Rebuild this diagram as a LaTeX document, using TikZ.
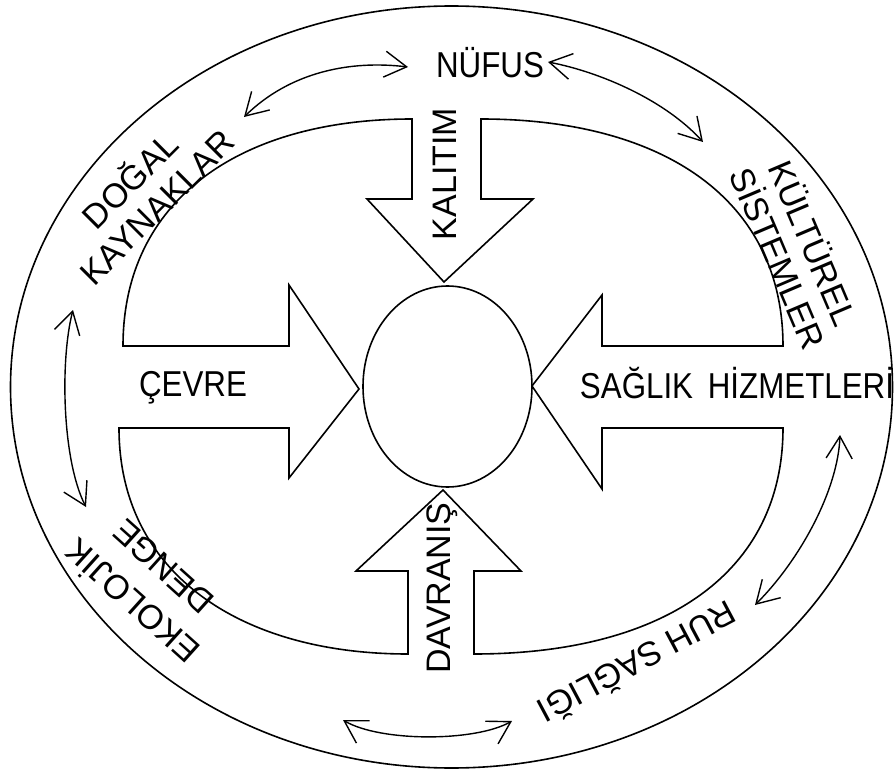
\documentclass[tikz,border=0pt]{standalone}
\usepackage{fontspec}
\setmainfont{Liberation Sans}
\newfontfamily\narrowsans{Liberation Sans}[FakeStretch=0.87]
\usetikzlibrary{arrows.meta}

\begin{document}
\begin{tikzpicture}[x=0.5pt,y=-0.5pt,>={Straight Barb[length=11pt,width=13pt]},
	ring/.style={line width=0.8pt},
	link/.style={line width=0.7pt,<->},
	flat/.style={font=\narrowsans\fontsize{18}{20}\selectfont,inner sep=0pt,anchor=base},
	band/.style={font=\fontsize{17}{19}\selectfont,inner sep=0pt,align=center}]
	
	\useasboundingbox (0,0) rectangle (896,776);
	
	% Outer ring
	\draw[ring] (451.5,387) ellipse [x radius=441, y radius=381];
	
	% Inner ring with the four block arrows
	\draw[ring]
	(123,346) .. controls (123,200) and (240,119) .. (412,119)
	-- (412,199) -- (367,199) -- (444,282) -- (533,199) -- (481,199) -- (481,119)
	.. controls (664,119) and (783,200) .. (783,346)
	-- (602,346) -- (602,295) -- (532,386) -- (602,489) -- (602,428) -- (783,428)
	.. controls (783,573) and (664,654) .. (474,654)
	-- (474,571) -- (521,571) -- (443,490) -- (356,571) -- (408,571) -- (408,654)
	.. controls (240,654) and (119,573) .. (119,428)
	-- (289,428) -- (289,478) -- (359,389) -- (289,285) -- (289,346) -- cycle;
	
	% Centre
	\draw[ring] (447.5,386.5) ellipse [x radius=84.5, y radius=100.5];
	
	% Labels
	\node[flat] (nufus) at (490,77) {NÜFUS};
	\node[flat] (cevre) at (193,396) {ÇEVRE};
	\node[flat] (saglik) at (737,398) {SAĞLIK\hspace{3pt} HİZMETLERİ};
	\node[band,rotate=90,anchor=base] (kalitim) at (456,174) {KALITIM};
	\node[band,rotate=90,anchor=base] (davranis) at (450,588) {DAVRANIŞ};
	\node[band,rotate=45] (dogal) at (142,192) {DOĞAL\\KAYNAKLAR};
	\node[band,rotate=-67] (kultur) at (797,250) {KÜLTÜREL\\SİSTEMLER};
	\node[band,rotate=138,font=\fontsize{17}{23}\selectfont] (ekoloji) at (146,586) {EKOLOJİK\\DENGE};
	\node[band,rotate=208] (ruh) at (638,664) {RUH SAĞLIĞI};
	
	% Arrow ends in the outer band
	\coordinate (nufusW) at (408,67);
	\coordinate (nufusE) at (548,62);
	\coordinate (dogalE) at (244,117);
	\coordinate (kulturN) at (703,142);
	\coordinate (dogalS) at (73,310);
	\coordinate (ekolojiN) at (86,507);
	\coordinate (saglikS) at (840,435);
	\coordinate (ruhN) at (755,605);
	\coordinate (bottomW) at (343,720);
	\coordinate (bottomE) at (512,721);
	
	% Links
	\draw[link] (dogalE) .. controls (290,72) and (350,60) .. (nufusW);
	\draw[link] (nufusE) .. controls (600,72) and (665,100) .. (kulturN);
	\draw[link] (dogalS) .. controls (60,360) and (62,460) .. (ekolojiN);
	\draw[link] (saglikS) .. controls (838,490) and (800,560) .. (ruhN);
	\draw[link] (bottomW) .. controls (380,742) and (475,742) .. (bottomE);
	
\end{tikzpicture}
\end{document}
